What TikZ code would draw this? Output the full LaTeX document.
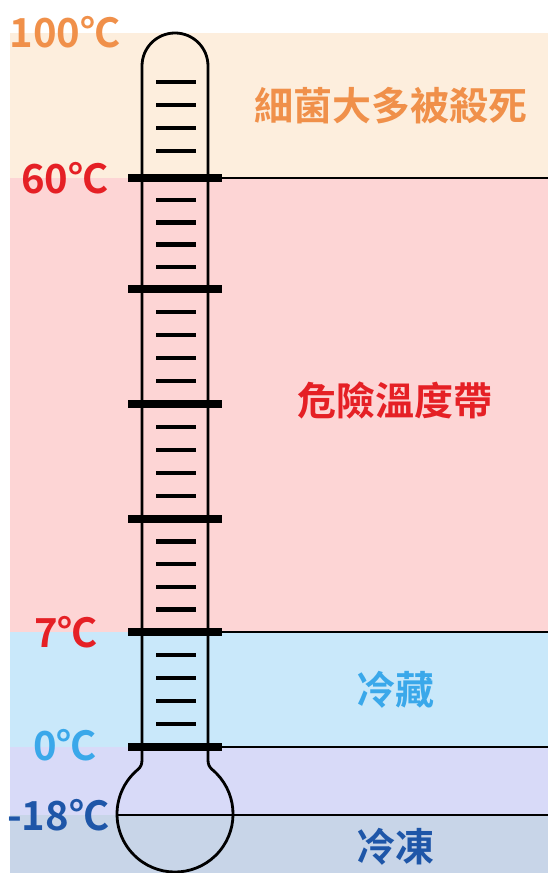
\documentclass[tikz,border=0pt]{standalone}
\usepackage{fontspec}
\newfontfamily\cjk{Noto Sans CJK TC}[BoldFont={Noto Sans CJK TC Bold}]
\definecolor{creamC}{HTML}{FDEEDD}
\definecolor{pinkC}{HTML}{FDD5D5}
\definecolor{lblueC}{HTML}{C9E8FA}
\definecolor{lavC}{HTML}{D8DAF8}
\definecolor{gblueC}{HTML}{C8D5E8}
\definecolor{orangeT}{HTML}{F0904A}
\definecolor{redT}{HTML}{E52025}
\definecolor{lblueT}{HTML}{3AA8EA}
\definecolor{dblueT}{HTML}{1E56A8}
\tikzset{
  lbl/.style={font=\cjk\bfseries\fontsize{39}{41}\selectfont, inner sep=0pt, anchor=center},
  big/.style={font=\cjk\bfseries\fontsize{40}{42}\selectfont, inner sep=0pt, anchor=center},
  bandline/.style={line width=1.5pt, black},
  major/.style={line width=7.5pt, black},
  minor/.style={line width=4.5pt, black},
  tube/.style={line width=2.8pt, black}
}
\begin{document}
\begin{tikzpicture}[x=1pt,y=1pt]
\useasboundingbox (0,0) rectangle (548,873);
% bands
\fill[creamC] (10,695) rectangle (548,840);
\fill[pinkC] (10,241) rectangle (548,695);
\fill[lblueC] (10,126) rectangle (548,241);
\fill[lavC] (10,58) rectangle (548,126);
\fill[gblueC] (10,0) rectangle (548,58);
% band boundary lines
\draw[bandline] (222,695) -- (548,695);
\draw[bandline] (222,241) -- (548,241);
\draw[bandline] (222,126) -- (548,126);
\draw[bandline] (118,58) -- (548,58);
% thermometer outline
\draw[tube] (142,113) -- (142,807) arc[start angle=180,end angle=0,radius=33]
  -- (208,113) to[out=-90,in=140] (212.3,103.4) arc[start angle=50,end angle=-230,radius=58]
  to[out=40,in=-90] (142,113) -- cycle;
% major ticks
\foreach \y in {695,584,469,354,241,126}
  \draw[major] (128,\y) -- (222,\y);
% minor ticks
\foreach \y in {791,768,745,722}
  \draw[minor] (156,\y) -- (196,\y);
\foreach \a/\b in {695/584,584/469,469/354,354/241,241/126}
  \foreach \k in {1,2,3,4}
    \draw[minor] (156,{\a-(\a-\b)*\k/5}) -- (196,{\a-(\a-\b)*\k/5});
% labels
\node[big, text=orangeT] (t100) at (65,841) {100℃};
\node[big, text=redT] (t60) at (65,695) {60℃};
\node[big, text=redT] (t7) at (66,241) {7℃};
\node[big, text=lblueT] (t0) at (65,128) {0℃};
\node[big, text=dblueT] (t18) at (58,58) {-18℃};
\node[lbl, text=orangeT] (kill) at (391,767) {細菌大多被殺死};
\node[lbl, text=redT] (danger) at (395,473) {危險溫度帶};
\node[lbl, text=lblueT] (fridge) at (395,183) {冷藏};
\node[lbl, text=dblueT] (freeze) at (395,26) {冷凍};
\end{tikzpicture}
\end{document}
